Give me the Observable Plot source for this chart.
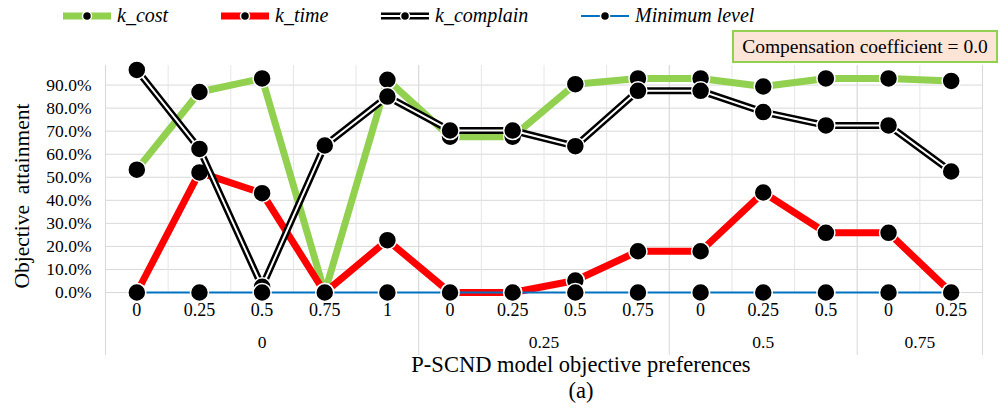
<!DOCTYPE html>
<html>
<head>
<meta charset="utf-8">
<script src="https://cdn.jsdelivr.net/npm/d3@7"></script>
<script src="https://cdn.jsdelivr.net/npm/@observablehq/plot@0.6"></script>
<style>
  html, body { margin: 0; padding: 0; background: #fff; }
  #wrap { position: relative; width: 1000px; height: 412px; font-family: "Liberation Serif", "Times New Roman", serif; }
  #wrap > svg { position: absolute; left: 0; top: 0; }
  #wrap svg text { font-family: "Liberation Serif", "Times New Roman", serif !important; }
  .leg { position: absolute; top: 4px; display: flex; align-items: center; font-style: italic; font-size: 20px; color: #000; }
  .leg svg { position: static !important; margin-right: 6px; }
  #box { position: absolute; left: 732px; top: 30px; width: 262px; height: 29px; background: #FCE4D6; border: 2px solid #92D050; font-size: 19.5px; line-height: 29px; text-align: center; white-space: nowrap; }
  .lbl { position: absolute; font-size: 22.5px; white-space: nowrap; transform: translateX(-50%); }
  #ytitle { position: absolute; left: 22px; top: 196px; font-size: 21.5px; white-space: pre; transform: translate(-50%, -50%) rotate(-90deg); }
</style>
</head>
<body>
<div id="wrap"></div>
<script>
// ---- data ----
const innerLabels = ["0","0.25","0.5","0.75","1","0","0.25","0.5","0.75","0","0.25","0.5","0","0.25"];
const groupLabels = ["0","0","0","0","0","0.25","0.25","0.25","0.25","0.5","0.5","0.5","0.75","0.75"];
const kCost     = [0.533,0.870,0.929,0.000,0.923,0.676,0.676,0.904,0.929,0.929,0.894,0.929,0.929,0.918];
const kTime     = [0.000,0.521,0.431,0.000,0.227,0.000,0.000,0.052,0.179,0.179,0.434,0.259,0.259,0.000];
const kComplain = [0.966,0.623,0.025,0.638,0.850,0.703,0.703,0.635,0.875,0.875,0.783,0.725,0.725,0.525];
const minLevel  = [0,0,0,0,0,0,0,0,0,0,0,0,0,0];
const yTicks = [0,0.1,0.2,0.3,0.4,0.5,0.6,0.7,0.8,0.9];
const seriesNames = ["k_cost","k_time","k_complain","Minimum level"];
const colors = {cost: "#92D050", time: "#FF0000", complain: "#000000", min: "#0070C0"};

// ---- derived tables ----
const idx = innerLabels.map((_, i) => i);
const mk = arr => arr.map((v, i) => ({i, v}));
const cost = mk(kCost), time = mk(kTime), complain = mk(kComplain), minl = mk(minLevel);

const groups = [];
groupLabels.forEach((g, i) => {
  const last = groups[groups.length - 1];
  if (last && last.label === g) last.idx.push(i); else groups.push({label: g, idx: [i]});
});
const groupCenters = groups.map(g => ({label: g.label, x: d3.mean(g.idx)}));
const groupBounds = [-0.5, ...groups.map(g => d3.max(g.idx) + 0.5)];
const bandBounds = idx.slice(0, -1).map(i => i + 0.5);

const yMax = 0.985;
const serif = "Liberation Serif, Times New Roman, serif";
const dotOpts = {x: "i", y: "v", r: 9, fill: "#000", stroke: "#fff", strokeWidth: 1.5};

const plot = Plot.plot({
  width: 1000, height: 412,
  marginLeft: 105, marginRight: 18, marginTop: 65, marginBottom: 120,
  style: {fontFamily: serif, fontSize: "16px", background: "transparent", color: "#000"},
  x: {domain: [-0.5, innerLabels.length - 0.5], axis: null},
  y: {domain: [0, yMax], axis: null},
  marks: [
    Plot.gridY(yTicks, {stroke: "#D9D9D9", strokeOpacity: 1, strokeWidth: 1}),
    Plot.ruleX(bandBounds, {stroke: "#E6E6E6", strokeWidth: 1}),
    Plot.ruleX(groupBounds, {stroke: "#D9D9D9", strokeWidth: 1, insetBottom: -63}),
    Plot.axisY(yTicks, {tickFormat: d3.format(".1%"), tickSize: 0, tickPadding: 14, fontSize: 17.5, anchor: "left", label: null, fontFamily: serif}),
    Plot.text(innerLabels, {x: (d, i) => i, text: d => d, frameAnchor: "bottom", dy: 23, fontSize: 18, fontFamily: serif}),
    Plot.text(groupCenters, {x: "x", text: "label", frameAnchor: "bottom", dy: 55, fontSize: 17.5, fontFamily: serif}),
    // k_cost
    Plot.line(cost, {x: "i", y: "v", stroke: colors.cost, strokeWidth: 7}),
    Plot.dot(cost, dotOpts),
    // k_time
    Plot.line(time, {x: "i", y: "v", stroke: colors.time, strokeWidth: 7}),
    Plot.dot(time, dotOpts),
    // k_complain (double line)
    Plot.line(complain, {x: "i", y: "v", stroke: colors.complain, strokeWidth: 7}),
    Plot.line(complain, {x: "i", y: "v", stroke: "#fff", strokeWidth: 2}),
    Plot.dot(complain, dotOpts),
    // minimum level
    Plot.line(minl, {x: "i", y: "v", stroke: colors.min, strokeWidth: 2}),
    Plot.dot(minl, dotOpts)
  ]
});

const wrap = document.getElementById("wrap");
wrap.appendChild(plot);

// legend
function swatch(kind) {
  const c = colors[kind];
  let lines;
  if (kind === "complain") {
    lines = `<line x1="0" x2="48" y1="8" y2="8" stroke="#000" stroke-width="7"/><line x1="0" x2="48" y1="8" y2="8" stroke="#fff" stroke-width="2"/>`;
  } else if (kind === "min") {
    lines = `<line x1="0" x2="48" y1="8" y2="8" stroke="${c}" stroke-width="2"/>`;
  } else {
    lines = `<line x1="0" x2="48" y1="8" y2="8" stroke="${c}" stroke-width="7"/>`;
  }
  return `<svg width="48" height="16">${lines}<circle cx="24" cy="8" r="4.5" fill="#000" stroke="#fff" stroke-width="1.5"/></svg>`;
}
const legendItems = [
  {name: seriesNames[0], kind: "cost", left: 63},
  {name: seriesNames[1], kind: "time", left: 221},
  {name: seriesNames[2], kind: "complain", left: 381},
  {name: seriesNames[3], kind: "min", left: 581}
];
legendItems.forEach(it => {
  const d = document.createElement("div");
  d.className = "leg";
  d.style.left = it.left + "px";
  d.innerHTML = swatch(it.kind) + `<span>${it.name}</span>`;
  wrap.appendChild(d);
});

const box = document.createElement("div");
box.id = "box";
box.textContent = "Compensation coefficient = 0.0";
wrap.appendChild(box);

const t1 = document.createElement("div");
t1.className = "lbl"; t1.style.left = "581px"; t1.style.top = "352px";
t1.textContent = "P-SCND model objective preferences";
wrap.appendChild(t1);
const t2 = document.createElement("div");
t2.className = "lbl"; t2.style.left = "581px"; t2.style.top = "378px";
t2.textContent = "(a)";
wrap.appendChild(t2);
const yt = document.createElement("div");
yt.id = "ytitle";
yt.textContent = "Objective  attainment";
wrap.appendChild(yt);
</script>
</body>
</html>
